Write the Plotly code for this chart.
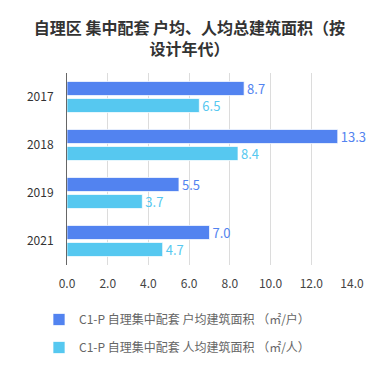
import plotly.graph_objects as go

categories = ["2017", "2018", "2019", "2021"]
household_avg = [8.7, 13.3, 5.5, 7.0]
person_avg = [6.5, 8.4, 3.7, 4.7]
series_names = [
    "C1-P 自理集中配套 户均建筑面积 （㎡/户）",
    "C1-P 自理集中配套 人均建筑面积 （㎡/人）",
]
x_ticks = [0, 2, 4, 6, 8, 10, 12, 14]
title_text = "自理区 集中配套 户均、人均总建筑面积（按<br>设计年代）"

FONT = "Noto Sans CJK SC"
c1 = "#5283F0"
c2 = "#56C8F0"

fig = go.Figure()
for name, vals, col, grp in [(series_names[0], household_avg, c1, "a"),
                             (series_names[1], person_avg, c2, "b")]:
    fig.add_trace(go.Bar(
        y=categories, x=vals, name=name, orientation="h",
        marker=dict(color=col, line=dict(color="rgba(255,255,255,0.7)", width=1)),
        text=[f"{v:.1f}" for v in vals], textposition="outside",
        textfont=dict(color=col, size=13, family=FONT),
        constraintext="none",
        cliponaxis=False, legendgroup=grp,
    ))

fig.update_layout(
    width=379, height=378,
    margin=dict(l=67, r=27, t=73, b=113, autoexpand=False),
    paper_bgcolor="white", plot_bgcolor="white",
    font=dict(family=FONT, size=12, color="#333"),
    title=dict(text=title_text, x=0.5, xanchor="center", y=1 - 34 / 378, yanchor="middle",
               font=dict(family=FONT, size=16, color="#333", weight="bold")),
    barmode="group", bargap=0.2917, bargroupgap=0.176,
    showlegend=True,
    legend=dict(orientation="v", xref="paper", yref="paper",
                x=(39 - 67) / 285, xanchor="left", y=(265 - 305) / 192, yanchor="top",
                traceorder="grouped", tracegroupgap=9,
                font=dict(family=FONT, size=12, color="#666"),
                bgcolor="rgba(0,0,0,0)"),
    xaxis=dict(range=[0, 14], tickvals=x_ticks, tickformat=".1f",
               showgrid=True, gridcolor="#dcdcdc", gridwidth=1,
               zeroline=False, showline=False, ticks="",
               tickfont=dict(size=12, color="#444"), ticklabelstandoff=10),
    yaxis=dict(autorange="reversed", type="category",
               showline=True, linecolor="#666", linewidth=1,
               showgrid=False, ticks="", tickfont=dict(size=12, color="#333"),
               ticklabelstandoff=10),
)

fig.write_html("out.html", config={"displayModeBar": False},
               post_script="document.body.style.margin='0';")
